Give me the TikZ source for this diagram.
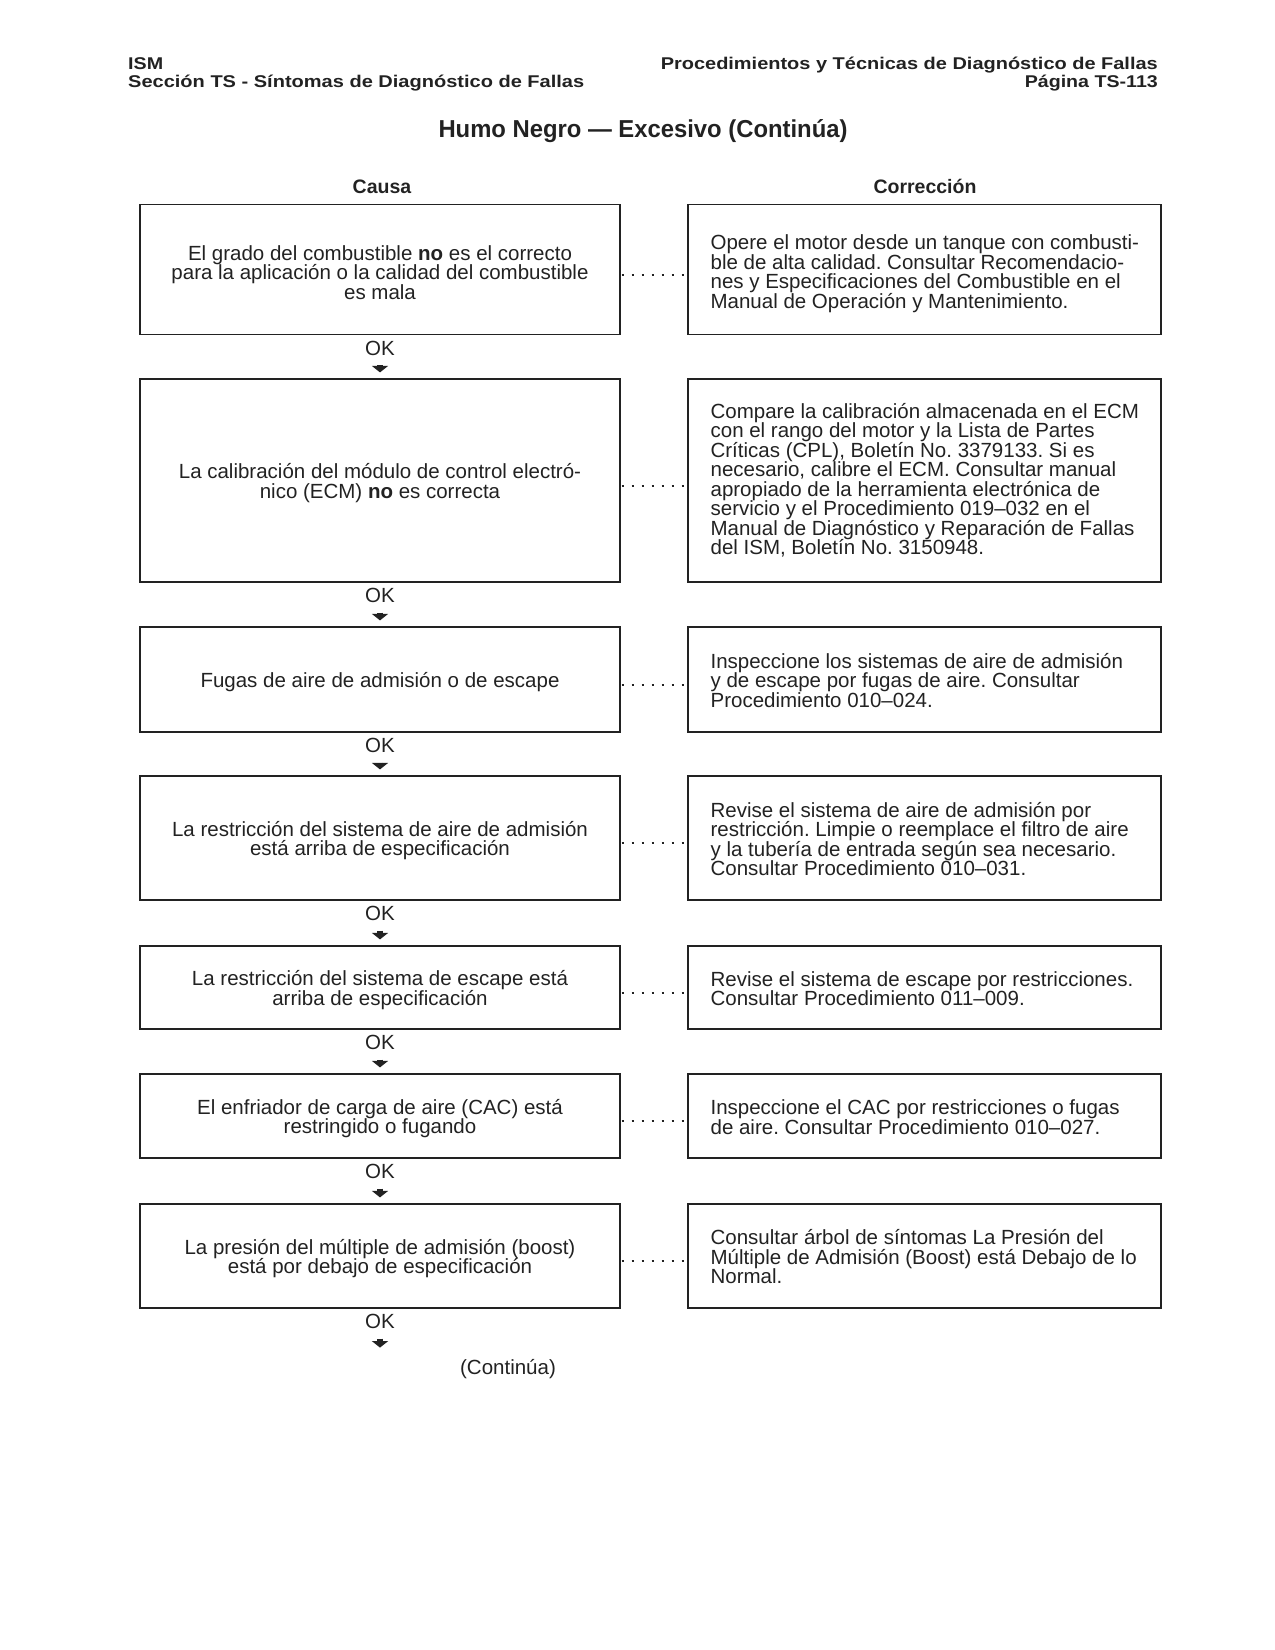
\documentclass[tikz,border=0pt]{standalone}
\usepackage{fontspec}
\usepackage{graphicx}
\setmainfont{Liberation Sans}
\usetikzlibrary{arrows.meta}
\definecolor{ink}{HTML}{222222}
\newcommand\bodyfont{\fontsize{20.5}{19.5}\selectfont\frenchspacing\lineskiplimit=-50pt\relax}
\newcommand\headfont{\fontsize{17}{20}\selectfont\bfseries}
\newcommand\titlefont{\fontsize{24.5}{28}\selectfont\bfseries}
\newcommand\colfont{\fontsize{19.5}{22}\selectfont\bfseries}
\newcommand\fitw[2]{\resizebox{#1}{\height}{#2}}
\tikzset{
  lbox/.style={draw=ink, line width=1.2pt, minimum width=480pt, inner sep=0pt},
  ltext/.style={align=center, font=\bodyfont, text=ink, inner sep=0pt, yshift=-2.7pt},
  rbox/.style={draw=ink, line width=1.2pt, minimum width=473pt, inner sep=0pt},
  rtext/.style={anchor=west, align=left, font=\bodyfont, text=ink, inner sep=0pt, yshift=-1pt},
  oklab/.style={font=\bodyfont, text=ink, inner sep=0pt},
  okarrow/.style={draw=ink, line width=5.5pt, line cap=butt,
    -{Triangle[width=16pt,length=6.5pt]}, shorten <=9.5pt, shorten >=6pt},
  dotconn/.style={draw=ink, line width=2pt, dash pattern=on 2pt off 8pt, dash phase=9pt},
  hdr/.style={font=\headfont, text=ink, inner sep=0pt},
}
\begin{document}
\begin{tikzpicture}[x=1pt,y=-1pt]
\useasboundingbox (0,0) rectangle (1275,1650);
% header
\node[hdr, anchor=base west] (h1) at (128,69) {\fitw{35pt}{ISM}};
\node[hdr, anchor=base west] (h2) at (128,87.5) {\fitw{456pt}{Sección TS - Síntomas de Diagnóstico de Fallas}};
\node[hdr, anchor=base east] (h3) at (1158,69) {\fitw{497pt}{Procedimientos y Técnicas de Diagnóstico de Fallas}};
\node[hdr, anchor=base east] (h4) at (1158,87.5) {\fitw{133pt}{Página TS-113}};
\node[font=\titlefont, text=ink, inner sep=0pt, anchor=base] (title) at (643,137) {\fitw{409pt}{Humo Negro — Excesivo (Continúa)}};
\node[font=\colfont, text=ink, inner sep=0pt, anchor=base] (causa) at (382,193) {Causa};
\node[font=\colfont, text=ink, inner sep=0pt, anchor=base] (corr) at (925,193) {Corrección};

% row 1
\node[lbox, minimum height=130pt] (c1) at (380,269.5) {};
\node[ltext] (c1t) at (c1.center) {El grado del combustible \textbf{no} es el correcto\\para la aplicación o la calidad del combustible\\es mala};
\node[rbox, minimum height=130pt] (r1) at (924.5,269.5) {};
\node[rtext, yshift=-3pt] (r1t) at ([xshift=23pt]r1.west) {Opere el motor desde un tanque con combusti-\\ble de alta calidad. Consultar Recomendacio-\\nes y Especificaciones del Combustible en el\\Manual de Operación y Mantenimiento.};
% row 2
\node[lbox, minimum height=203pt] (c2) at (380,480.5) {};
\node[ltext] (c2t) at (c2.center) {La calibración del módulo de control electró-\\nico (ECM) \textbf{no} es correcta};
\node[rbox, minimum height=203pt] (r2) at (924.5,480.5) {};
\node[rtext, yshift=1pt] (r2t) at ([xshift=23pt]r2.west) {Compare la calibración almacenada en el ECM\\con el rango del motor y la Lista de Partes\\Críticas (CPL), Boletín No. 3379133. Si es\\necesario, calibre el ECM. Consultar manual\\apropiado de la herramienta electrónica de\\servicio y el Procedimiento 019–032 en el\\Manual de Diagnóstico y Reparación de Fallas\\del ISM, Boletín No. 3150948.};
% row 3
\node[lbox, minimum height=105pt] (c3) at (380,679.5) {};
\node[ltext] (c3t) at (c3.center) {Fugas de aire de admisión o de escape};
\node[rbox, minimum height=105pt] (r3) at (924.5,679.5) {};
\node[rtext] (r3t) at ([xshift=23pt]r3.west) {Inspeccione los sistemas de aire de admisión\\y de escape por fugas de aire. Consultar\\Procedimiento 010–024.};
% row 4
\node[lbox, minimum height=124pt] (c4) at (380,838) {};
\node[ltext] (c4t) at (c4.center) {La restricción del sistema de aire de admisión\\está arriba de especificación};
\node[rbox, minimum height=124pt] (r4) at (924.5,838) {};
\node[rtext] (r4t) at ([xshift=23pt]r4.west) {Revise el sistema de aire de admisión por\\restricción. Limpie o reemplace el filtro de aire\\y la tubería de entrada según sea necesario.\\Consultar Procedimiento 010–031.};
% row 5
\node[lbox, minimum height=83pt] (c5) at (380,987.5) {};
\node[ltext] (c5t) at (c5.center) {La restricción del sistema de escape está\\arriba de especificación};
\node[rbox, minimum height=83pt] (r5) at (924.5,987.5) {};
\node[rtext] (r5t) at ([xshift=23pt]r5.west) {Revise el sistema de escape por restricciones.\\Consultar Procedimiento 011–009.};
% row 6
\node[lbox, minimum height=84pt] (c6) at (380,1116) {};
\node[ltext] (c6t) at (c6.center) {El enfriador de carga de aire (CAC) está\\restringido o fugando};
\node[rbox, minimum height=84pt] (r6) at (924.5,1116) {};
\node[rtext] (r6t) at ([xshift=23pt]r6.west) {Inspeccione el CAC por restricciones o fugas\\de aire. Consultar Procedimiento 010–027.};
% row 7
\node[lbox, minimum height=104pt] (c7) at (380,1256) {};
\node[ltext] (c7t) at (c7.center) {La presión del múltiple de admisión (boost)\\está por debajo de especificación};
\node[rbox, minimum height=104pt] (r7) at (924.5,1256) {};
\node[rtext] (r7t) at ([xshift=23pt]r7.west) {Consultar árbol de síntomas La Presión del\\Múltiple de Admisión (Boost) está Debajo de lo\\Normal.};

% dotted connectors
\foreach \i in {1,...,7}{
  \draw[dotconn] ([yshift=-5pt]c\i.east) -- ([yshift=-5pt]r\i.west);
}

% OK labels and arrows
\foreach \i in {1,...,7}{
  \node[oklab] (ok\i) at ([yshift=-13pt]c\i.south) {OK};
}
\coordinate (fin) at ([yshift=-45pt]c7.south);
\foreach \i/\j in {1/2,2/3,3/4,4/5,5/6,6/7}{
  \draw[okarrow] (ok\i.south) -- (c\j.north);
}
\draw[okarrow] (ok7.south) -- (fin);

\node[oklab] (cont) at (508,1369) {(Continúa)};
\end{tikzpicture}
\end{document}
